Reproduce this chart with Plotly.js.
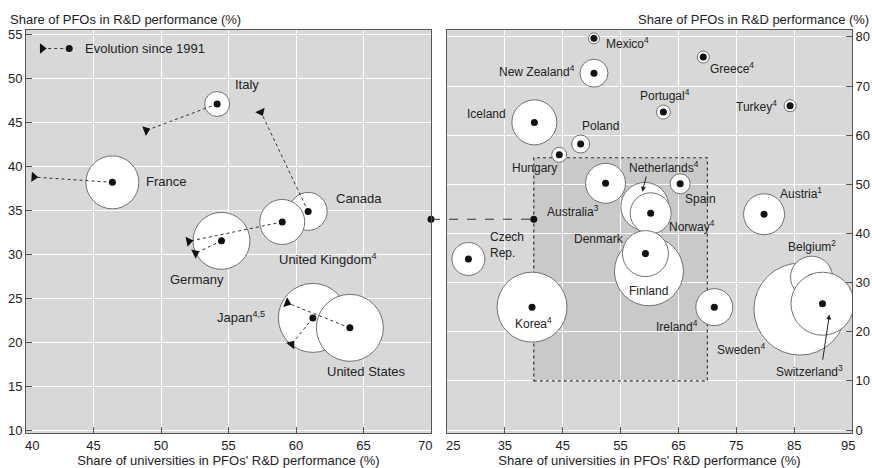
<!DOCTYPE html>
<html><head><meta charset="utf-8">
<script src="https://cdn.plot.ly/plotly-3.0.1.min.js"></script>
<style>html,body{margin:0;padding:0;background:#fff}#chart{width:872px;height:468px}</style>
</head><body><div id="chart"></div>
<script>
// ---- Left panel: large R&D countries (current position and 1991 position)
const leftCountries = ['Canada', 'United Kingdom', 'France', 'Italy', 'Germany', 'Japan', 'United States'];
const leftUniv      = [60.9, 58.98, 46.4, 54.16, 54.48, 61.25, 63.99];
const leftPFO       = [34.9, 33.7, 38.2, 47.1, 31.55, 22.8, 21.67];
const leftUniv1991  = [57.4, 52.06, 40.58, 48.9, 52.55, 59.67, 59.35];
const leftPFO1991   = [46.2, 31.5, 38.8, 44.1, 30.15, 19.8, 24.5];
const leftBubble    = [38, 45, 53, 25, 57, 69, 67];

// legend sample "Evolution since 1991"
const legendUniv = [43.2, 41.2];
const legendPFO  = [53.4, 53.4];

// ---- Right panel: other OECD countries (array order = drawing order)
const rightCountries = ['Mexico', 'New Zealand', 'Iceland', 'Poland', 'Hungary', 'Greece', 'Portugal', 'Turkey',
  'Australia', 'Netherlands', 'Norway', 'Spain', 'Finland', 'Denmark', 'Czech Rep.', 'Korea', 'Ireland',
  'Austria', 'Sweden', 'Belgium', 'Switzerland'];
const rightUniv   = [50.4, 50.4, 40.1, 48.1, 44.4, 69.3, 62.4, 84.3, 52.4, 59.2, 60.2, 65.3, 59.9, 59.3, 28.7, 39.7, 71.2, 79.8, 86.0, 88.0, 89.9];
const rightPFO    = [79.7, 72.6, 62.6, 58.2, 56.0, 75.9, 64.7, 66.0, 50.2, 45.5, 44.1, 50.1, 32.3, 35.9, 34.8, 25.0, 25.0, 43.9, 24.6, 31.1, 25.7];
const rightBubble = [11, 28, 45, 18, 15, 12, 14, 12, 40, 48, 41, 20, 69, 46, 33, 70, 37, 41, 92, 42, 63];

// axis ticks
const leftXTicks  = [40, 45, 50, 55, 60, 65, 70];
const leftYTicks  = [10, 15, 20, 25, 30, 35, 40, 45, 50, 55];
const rightXTicks = [25, 35, 45, 55, 65, 75, 85, 95];
const rightYTicks = [0, 10, 20, 30, 40, 50, 60, 70, 80];

// zoom box on the right panel and the connector between panels
const zoomBoxUniv = [40, 70];
const zoomBoxPFO  = [10, 55.4];
const connectorLeft  = [70, 34];
const connectorRight = [40, 42.9];

// ---- geometry
const W = 872, H = 468;
const M = {l: 26, r: 20, t: 30, b: 35};
const dom1 = [0, 0.49031], dom2 = [0.50969, 1];
const xr1 = [40, 70], yr1 = [9.72, 55.51];
const xr2 = [25, 95], yr2 = [-0.61, 81.4];

const FONT = 'Arial, "Liberation Sans", sans-serif';
const TXT = '#222';
const traces = [];

// left bubbles
traces.push({
  type: 'scatter', mode: 'markers', x: leftUniv, y: leftPFO, xaxis: 'x', yaxis: 'y',
  text: leftCountries, hoverinfo: 'skip',
  marker: {size: leftBubble, color: '#ffffff', opacity: 1, line: {color: '#707070', width: 1}}
});
// evolution lines with arrow marks at the 1991 position
function evo(xa, ya, xref, yref) {
  return {
    type: 'scatter', mode: 'lines+markers', x: xa, y: ya, xaxis: xref, yaxis: yref,
    hoverinfo: 'skip', cliponaxis: false,
    line: {color: '#333', width: 1, dash: 'dot'},
    marker: {symbol: ['circle', 'triangle-up'], size: [1, 9], angle: [0, 180], angleref: 'previous',
             color: '#111', opacity: 1, line: {width: 0}}
  };
}
for (let i = 0; i < leftCountries.length; i++) {
  traces.push(evo([leftUniv[i], leftUniv1991[i]], [leftPFO[i], leftPFO1991[i]], 'x', 'y'));
}
traces.push(evo(legendUniv, legendPFO, 'x', 'y'));
// left dots
traces.push({
  type: 'scatter', mode: 'markers', x: leftUniv.concat([legendUniv[0]]), y: leftPFO.concat([legendPFO[0]]),
  xaxis: 'x', yaxis: 'y', hoverinfo: 'skip',
  marker: {size: 7, color: '#111', opacity: 1}
});
// right bubbles with their dots (one trace per country to keep the overlap order)
for (let i = 0; i < rightCountries.length; i++) {
  traces.push({
    type: 'scatter', mode: 'markers', x: [rightUniv[i], rightUniv[i]], y: [rightPFO[i], rightPFO[i]],
    xaxis: 'x2', yaxis: 'y2', hoverinfo: 'skip', name: rightCountries[i],
    marker: {size: [rightBubble[i], 7], color: ['#ffffff', '#111'], opacity: 1,
             line: {color: '#707070', width: [1, 0]}}
  });
}
// connector dots
traces.push({type: 'scatter', mode: 'markers', x: [connectorLeft[0]], y: [connectorLeft[1]], xaxis: 'x', yaxis: 'y',
  cliponaxis: false, hoverinfo: 'skip', marker: {size: 7, color: '#111', opacity: 1}});
traces.push({type: 'scatter', mode: 'markers', x: [connectorRight[0]], y: [connectorRight[1]], xaxis: 'x2', yaxis: 'y2',
  cliponaxis: false, hoverinfo: 'skip', marker: {size: 7, color: '#111', opacity: 1}});

function toPaperX(dom, r, v) { return dom[0] + (v - r[0]) / (r[1] - r[0]) * (dom[1] - dom[0]); }
function toPaperY(r, v) { return (v - r[0]) / (r[1] - r[0]); }

const shapes = [
  {type: 'rect', xref: 'x2', yref: 'y2', x0: zoomBoxUniv[0], x1: zoomBoxUniv[1], y0: zoomBoxPFO[0], y1: zoomBoxPFO[1],
   fillcolor: '#c9c9c9', line: {width: 0}, layer: 'below'},
  {type: 'rect', xref: 'x2', yref: 'y2', x0: zoomBoxUniv[0], x1: zoomBoxUniv[1], y0: zoomBoxPFO[0], y1: zoomBoxPFO[1],
   fillcolor: 'rgba(0,0,0,0)', line: {width: 1.2, dash: 'dot', color: '#333'}, layer: 'between'},
  {type: 'line', xref: 'paper', yref: 'paper',
   x0: toPaperX(dom1, xr1, connectorLeft[0]), y0: toPaperY(yr1, connectorLeft[1]),
   x1: toPaperX(dom2, xr2, connectorRight[0]), y1: toPaperY(yr2, connectorRight[1]),
   line: {color: '#333', width: 1, dash: 'dash'}}
];

function lab(text, x, y, xref, yref, size, opts) {
  return Object.assign({text: text, x: x, y: y, xref: xref, yref: yref, showarrow: false,
    font: {family: FONT, size: size, color: TXT}}, opts || {});
}
const L = (t, x, y, o) => lab(t, x, y, 'x', 'y', 13, o);
const R = (t, x, y, o) => lab(t, x, y, 'x2', 'y2', 12, o);

// edge tick labels, nudged inward as in the reference
function edgeTick(val, xref, shift) {
  return {text: String(val), x: val, y: 0, xref: xref, yref: 'paper', yanchor: 'top', xanchor: 'center',
    xshift: shift, yshift: -3, showarrow: false, font: {family: FONT, size: 13, color: TXT}};
}

const annotations = [
  L('Evolution since 1991', 44.24, 53.4, {xanchor: 'left'}),
  L('Italy', 56.4, 49.3),
  L('France', 50.4, 38.35),
  L('Canada', 64.7, 36.35),
  L('United Kingdom<sup>4</sup>', 62.4, 29.5),
  L('Germany', 52.7, 27.2),
  L('Japan<sup>4,5</sup>', 55.9, 22.85),
  L('United States', 65.2, 16.7),
  R('Mexico<sup>4</sup>', 52.1, 78.7, {xanchor: 'left'}),
  R('New Zealand<sup>4</sup>', 47.5, 73.1, {xanchor: 'right'}),
  R('Iceland', 35.5, 64.3, {xanchor: 'right'}),
  R('Poland', 51.6, 61.9),
  R('Hungary', 40.2, 53.3),
  R('Greece<sup>4</sup>', 74.2, 73.7),
  R('Portugal<sup>4</sup>', 62.7, 68.2),
  R('Turkey<sup>4</sup>', 82.4, 66.0, {xanchor: 'right'}),
  R('Netherlands<sup>4</sup>', 62.45, 53.6),
  R('Spain', 68.85, 47.0),
  R('Australia<sup>3</sup>', 46.8, 44.6),
  R('Norway<sup>4</sup>', 67.3, 41.6),
  R('Denmark', 51.3, 38.9),
  R('Czech<br>Rep.', 32.0, 37.6, {xanchor: 'left', align: 'left'}),
  R('Finland', 59.9, 28.2),
  R('Korea<sup>4</sup>', 40.0, 21.8),
  R('Ireland<sup>4</sup>', 64.7, 21.1),
  R('Austria<sup>1</sup>', 86.1, 48.2),
  R('Belgium<sup>2</sup>', 88.0, 37.5),
  R('Sweden<sup>4</sup>', 75.9, 16.4),
  R('Switzerland<sup>3</sup>', 87.7, 12.1),
  // pointer arrows
  {x: 58.75, y: 48.5, ax: 59.5, ay: 51.9, xref: 'x2', yref: 'y2', axref: 'x2', ayref: 'y2', text: '',
   showarrow: true, arrowhead: 2, arrowsize: 1, arrowwidth: 1, arrowcolor: '#222'},
  {x: 91.1, y: 23.5, ax: 89.9, ay: 14.0, xref: 'x2', yref: 'y2', axref: 'x2', ayref: 'y2', text: '',
   showarrow: true, arrowhead: 2, arrowsize: 1, arrowwidth: 1, arrowcolor: '#222'},
  // edge tick labels
  edgeTick(leftXTicks[0], 'x', 6),
  edgeTick(leftXTicks[leftXTicks.length - 1], 'x', -6),
  edgeTick(rightXTicks[0], 'x2', 6),
  edgeTick(rightXTicks[rightXTicks.length - 1], 'x2', -4),
  // vertical axis titles
  {text: 'Share of PFOs in R&D performance (%)', xref: 'paper', yref: 'paper',
   x: (8 - M.l) / (W - M.l - M.r), y: (H - M.b - 19) / (H - M.t - M.b), xanchor: 'left', yanchor: 'middle',
   showarrow: false, font: {family: FONT, size: 13, color: TXT}},
  {text: 'Share of PFOs in R&D performance (%)', xref: 'paper', yref: 'paper',
   x: (871 - M.l) / (W - M.l - M.r), y: (H - M.b - 19) / (H - M.t - M.b), xanchor: 'right', yanchor: 'middle',
   showarrow: false, font: {family: FONT, size: 13, color: TXT}}
];

const axCommon = {
  showgrid: true, gridcolor: '#ffffff', gridwidth: 1, zeroline: false,
  showline: true, linecolor: '#555', linewidth: 1, mirror: true,
  ticks: 'inside', ticklen: 6, tickcolor: '#555',
  tickfont: {family: FONT, size: 13, color: TXT}, fixedrange: true
};
const xTitle = "Share of universities in PFOs' R&D performance (%)";
// x ticks: edge labels are drawn as annotations, so their tick text is blank
function tickText(vals) { return vals.map((v, i) => (i === 0 || i === vals.length - 1) ? ' ' : String(v)); }

const layout = {
  width: W, height: H, margin: M, showlegend: false,
  paper_bgcolor: '#ffffff', plot_bgcolor: '#d8d8d8',
  font: {family: FONT, color: TXT},
  xaxis: Object.assign({}, axCommon, {domain: dom1, range: xr1, tickmode: 'array', tickvals: leftXTicks,
    ticktext: tickText(leftXTicks), anchor: 'y',
    title: {text: xTitle, font: {family: FONT, size: 13, color: TXT}, standoff: 2}}),
  yaxis: Object.assign({}, axCommon, {range: yr1, tickmode: 'array', tickvals: leftYTicks, anchor: 'x'}),
  xaxis2: Object.assign({}, axCommon, {domain: dom2, range: xr2, tickmode: 'array', tickvals: rightXTicks,
    ticktext: tickText(rightXTicks), anchor: 'y2',
    title: {text: xTitle, font: {family: FONT, size: 13, color: TXT}, standoff: 2}}),
  yaxis2: Object.assign({}, axCommon, {range: yr2, tickmode: 'array', tickvals: rightYTicks, anchor: 'x2', side: 'right'}),
  shapes: shapes, annotations: annotations, hovermode: false
};

Plotly.newPlot('chart', traces, layout, {displayModeBar: false, staticPlot: true});
</script>
</body></html>
